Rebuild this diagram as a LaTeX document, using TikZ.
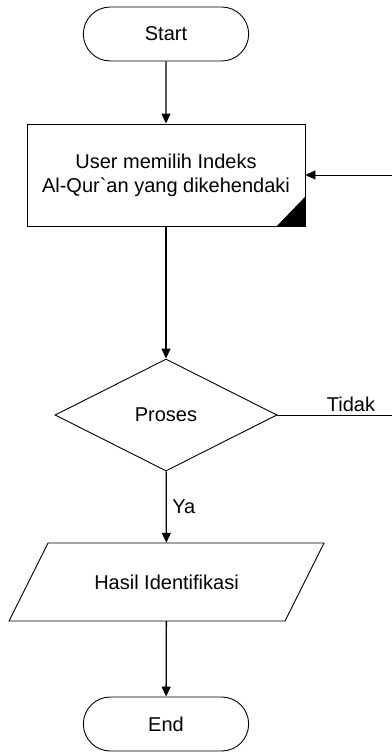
\documentclass[tikz,border=0pt]{standalone}
\usepackage{fontspec}
\newfontfamily\arialish{Liberation Sans}
\usetikzlibrary{arrows.meta,positioning,shapes.geometric,shapes.misc}

\begin{document}
\begin{tikzpicture}[x=1pt,y=-1pt,
  every node/.style={font=\arialish\fontsize{20}{24}\selectfont},
  terminal/.style={draw,line width=0.9pt,rounded rectangle,minimum width=172pt,minimum height=54pt},
  process/.style={draw,line width=0.9pt,rectangle,minimum width=278pt,minimum height=102pt,align=center},
  decision/.style={draw,line width=0.9pt,diamond,aspect=2,minimum width=222pt,minimum height=112pt,inner sep=0pt},
  io/.style={rectangle,minimum width=236pt,minimum height=78pt},
  flow/.style={line width=1.3pt,-{Triangle[length=10pt,width=9pt]}},
  back/.style={line width=0.9pt,-{Triangle[length=10pt,width=9pt]}}]
  \useasboundingbox (0,0) rectangle (391,754);
  \node[terminal] (start) at (166,34) {Start};
  \node[process] (pilih) at (166,175) {User memilih Indeks\\Al-Qur`an yang dikehendaki};
  \fill (pilih.south east) -- ++(-29,0) -- ++(29,-30) -- cycle;
  \node[decision] (proses) at (166,415) {Proses};
  \node[io] (hasil) at (166.5,582) {Hasil Identifikasi};
  \draw[line width=0.9pt] (hasil.center) ++(-157.5,39) -- ++(39,-78) -- ++(276,0) -- ++(-39,78) -- cycle;
  \node[terminal] (end) at (166,724) {End};
  \draw[flow] (start) -- (pilih);
  \draw[flow] (pilih) -- (proses);
  \draw[flow] (proses) -- node[right,xshift=2pt]{Ya} (hasil);
  \draw[flow] (hasil) -- (end);
  % jalur kembali lewat tepi kanan
  \coordinate (balik) at (400,415);
  \draw[back] (proses.east) -- node[pos=.6,above]{Tidak} (balik) |- (pilih.east);
\end{tikzpicture}
\end{document}
